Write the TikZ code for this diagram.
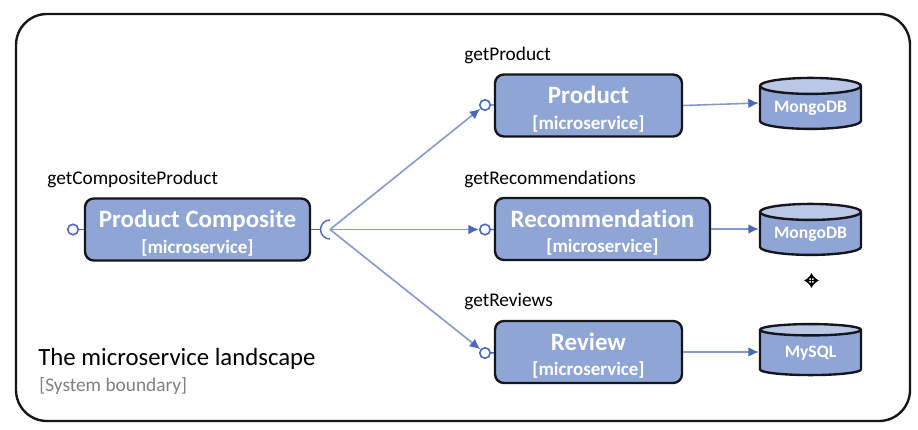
\documentclass[tikz,border=0pt]{standalone}
\usepackage{fontspec}
\setmainfont[Ligatures=NoCommon]{Carlito}
\usetikzlibrary{arrows.meta,positioning,calc,shapes.geometric}
\definecolor{boxblue}{HTML}{8FA5D6}
\definecolor{toplight}{HTML}{BBC7E6}
\definecolor{linkblue}{HTML}{8399D2}
\definecolor{tipblue}{HTML}{4A69BD}
\definecolor{edgeblack}{HTML}{14161C}
\tikzset{
  service/.style={draw=edgeblack,line width=1.35pt,fill=boxblue,rounded corners=5pt,minimum height=1.24cm,text=white,align=center,inner sep=0pt},
  store/.style={cylinder,shape border rotate=90,aspect=.22,draw=edgeblack,line width=1.35pt,cylinder uses custom fill,cylinder body fill=boxblue,cylinder end fill=toplight,minimum width=2.02cm,minimum height=1.02cm,text=white,font=\fontsize{10}{12}\selectfont\bfseries,inner sep=0pt},
  port/.style={circle,draw=tipblue,line width=.9pt,fill=white,minimum size=.21cm,inner sep=0pt},
  stem/.style={tipblue,line width=.8pt},
  link/.style={linkblue,line width=.9pt,-{Latex[length=6pt,width=5.5pt,color=tipblue]}},
  opname/.style={anchor=base west,font=\fontsize{11}{13}\selectfont,text=black,inner sep=0pt},
}
\newcommand{\svc}[2]{\rule{0pt}{14pt}{\fontsize{14.2}{16}\selectfont\bfseries #1}\\[2.5pt]{\fontsize{10.8}{12}\selectfont\bfseries [#2]}}
\begin{document}
\begin{tikzpicture}[x=.02cm,y=-.02cm,>=Latex]
\useasboundingbox (0,0) rectangle (918,429);
\fill[white] (0,0) rectangle (918,429);
\draw[edgeblack,line width=1.35pt,rounded corners=.62cm] (16,14) rectangle (910,421);
% services
\node[service,minimum width=4.5cm] (composite) at (197.5,229.5) {\svc{Product Composite}{microservice}};
\node[service,minimum width=3.74cm] (product) at (588.5,105.5) {\svc{Product}{microservice}};
\node[service,minimum width=4.3cm] (recommendation) at (602.5,229) {\svc{Recommendation}{microservice}};
\node[service,minimum width=3.74cm] (review) at (588.5,352) {\svc{Review}{microservice}};
% databases
\node[store] (mongoa) at (810.5,108) {MongoDB};
\node[store] (mongob) at (810.5,234) {MongoDB};
\node[store] (mysql) at (810.5,353) {MySQL};
\coordinate (mongoain) at ($(mongoa.west)+(0,-5)$);
\coordinate (mongobin) at ($(mongob.west)+(0,-5)$);
\coordinate (mysqlin) at ($(mysql.west)+(0,-1)$);
% ports
\node[port] (compositeport) at (73,229.5) {};
\node[port] (productport) at (485,105) {};
\node[port] (recommendationport) at (485,229.5) {};
\node[port] (reviewport) at (485,353) {};
\draw[stem] (compositeport)--(composite);
\draw[stem] (productport)--(product);
\draw[stem] (recommendationport)--(recommendation);
\draw[stem] (reviewport)--(review);
% socket
\coordinate (hub) at (330,229.5);
\coordinate (socket) at (321,229.5);
\draw[stem] (composite.east)--(socket);
\draw[stem] (330,220) arc (90:270:9.5*.02cm and 9.5*.02cm);
% links
\draw[link] (hub)--(productport);
\draw[link] (hub)--(recommendationport);
\draw[link] (hub)--(reviewport);
\draw[link] (product.east)--(mongoain);
\draw[link] (recommendation.east)--(mongobin);
\draw[link] (review.east)--(mysqlin);
% labels
\node[opname] (oplabela) at (47,184) {getCompositeProduct};
\node[opname] (oplabelb) at (464,61) {getProduct};
\node[opname] (oplabelc) at (464,184) {getRecommendations};
\node[opname] (oplabeld) at (464,306) {getReviews};
\node[anchor=base west,inner sep=0pt,font=\fontsize{14.1}{16}\selectfont] (title) at (38,365) {The microservice landscape};
\node[anchor=base west,inner sep=0pt,text=gray,font=\fontsize{11}{13}\selectfont] (subtitle) at (39,391) {[System boundary]};
% cursor
\draw[black,line width=1pt,{Latex[length=3pt,width=4.5pt]}-{Latex[length=3pt,width=4.5pt]}] (804,280.5)--(819,280.5);
\draw[black,line width=1pt,{Latex[length=3pt,width=4.5pt]}-{Latex[length=3pt,width=4.5pt]}] (811.5,273)--(811.5,288);
\end{tikzpicture}
\end{document}
